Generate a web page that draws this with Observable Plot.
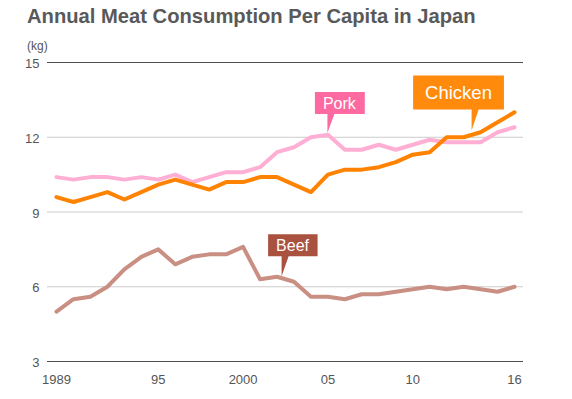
<!DOCTYPE html>
<html><head><meta charset="utf-8">
<script src="https://cdn.jsdelivr.net/npm/d3@7"></script>
<script src="https://cdn.jsdelivr.net/npm/@observablehq/plot@0.6"></script>
<style>
body{margin:0;background:#fff;font-family:"Liberation Sans",Arial,Helvetica,sans-serif;}
#wrap{position:relative;width:572px;height:399px;overflow:hidden;}
#chart{position:absolute;left:0;top:0;}
#title{position:absolute;left:27px;top:5px;font-size:20.2px;font-weight:bold;color:#595959;white-space:nowrap;}
#unit{position:absolute;left:27px;top:39px;font-size:12px;color:#555;}
</style></head><body>
<div id="wrap"><div id="chart"></div><div id="title">Annual Meat Consumption Per Capita in Japan</div><div id="unit">(kg)</div></div>
<script>
const years = [1989,1990,1991,1992,1993,1994,1995,1996,1997,1998,1999,2000,2001,2002,2003,2004,2005,2006,2007,2008,2009,2010,2011,2012,2013,2014,2015,2016];
const pork    = [10.4,10.3,10.4,10.4,10.3,10.4,10.3,10.5,10.2,10.4,10.6,10.6,10.8,11.4,11.6,12.0,12.1,11.5,11.5,11.7,11.5,11.7,11.9,11.8,11.8,11.8,12.2,12.4];
const chicken = [9.6,9.4,9.6,9.8,9.5,9.8,10.1,10.3,10.1,9.9,10.2,10.2,10.4,10.4,10.1,9.8,10.5,10.7,10.7,10.8,11.0,11.3,11.4,12.0,12.0,12.2,12.6,13.0];
const beef    = [5.0,5.5,5.6,6.0,6.7,7.2,7.5,6.9,7.2,7.3,7.3,7.6,6.3,6.4,6.2,5.6,5.6,5.5,5.7,5.7,5.8,5.9,6.0,5.9,6.0,5.9,5.8,6.0];
const yTicks = [3,6,9,12,15];
const xTicks = [1989,1995,2000,2005,2010,2016];
const xTickLabels = ["1989","95","2000","05","10","16"];
const calloutNames = ["Pork","Chicken","Beef"];
const calloutYears = [2005, 2013.5, 2002.3];
const calloutValues = [12.15, 12.25, 6.4];

const toRows = (vals) => years.map((y, i) => ({year: y, value: vals[i]}));

// styles for callouts
const calloutStyle = {
  Pork:    {fill:"#fd6aa1", fontSize:16,   padX:8,  H:22, offL:13, gap:19},
  Chicken: {fill:"#ff8a0c", fontSize:18.5, padX:12, H:34, offL:59, gap:21},
  Beef:    {fill:"#a8523f", fontSize:16,   padX:8,  H:22, offL:14, gap:20}
};

const callouts = calloutNames.map((name, i) => {
  const s = calloutStyle[name];
  return Plot.text([{name, year: calloutYears[i], value: calloutValues[i]}], {
    x: "year", y: "value", text: "name",
    textAnchor: "start", lineAnchor: "middle",
    dx: -s.offL + s.padX, dy: -(s.gap + s.H / 2),
    fill: "white", fontSize: s.fontSize,
    className: "callout-" + name
  });
});

const chart = Plot.plot({
  width: 572, height: 399,
  marginLeft: 47, marginRight: 49, marginTop: 62, marginBottom: 38,
  x: {domain: [1988.47, 2016.53]},
  y: {domain: [3, 15]},
  style: {fontFamily: '"Liberation Sans", Arial, Helvetica, sans-serif', fontSize: "13px", color: "#555", background: "transparent", overflow: "visible"},
  marks: [
    Plot.ruleY(yTicks, {stroke: d => (d === 15 || d === 3) ? "#4d4d4d" : "#cccccc", strokeWidth: 1, strokeOpacity: 1}),
    Plot.axisY({ticks: yTicks, tickSize: 0, tickPadding: 8, label: null, dy: 1.5, fill: "#555"}),
    Plot.axisX({ticks: xTicks, tickFormat: d => xTickLabels[xTicks.indexOf(d)], tickSize: 0, tickPadding: 13, label: null, fill: "#555"}),
    Plot.line(toRows(pork), {x: "year", y: "value", stroke: "#ffaed4", strokeWidth: 4, strokeLinejoin: "round", strokeLinecap: "round"}),
    Plot.line(toRows(chicken), {x: "year", y: "value", stroke: "#ff8200", strokeWidth: 4, strokeLinejoin: "round", strokeLinecap: "round"}),
    Plot.line(toRows(beef), {x: "year", y: "value", stroke: "#c98f82", strokeWidth: 4, strokeLinejoin: "round", strokeLinecap: "round"}),
    ...callouts
  ]
});
document.getElementById("chart").appendChild(chart);

// draw callout boxes behind the texts
const sx = chart.scale("x"), sy = chart.scale("y");
const svgRect = chart.getBoundingClientRect();
calloutNames.forEach((name, i) => {
  const s = calloutStyle[name];
  const g = chart.querySelector("g.callout-" + name) || chart.querySelector(".callout-" + name);
  if (!g) return;
  const t = g.querySelector("text");
  const r = t.getBoundingClientRect();
  const tx = sx.apply(calloutYears[i]), ty = sy.apply(calloutValues[i]);
  const left = r.left - svgRect.left - s.padX;
  const right = r.right - svgRect.left + s.padX;
  const bottom = ty - s.gap, top = bottom - s.H;
  const p = document.createElementNS("http://www.w3.org/2000/svg", "path");
  p.setAttribute("d", `M${left},${top}H${right}V${bottom}H${tx + 7}L${tx},${ty}L${tx},${bottom}H${left}Z`);
  p.setAttribute("fill", s.fill);
  g.parentNode.insertBefore(p, g);
});
</script>
</body></html>
